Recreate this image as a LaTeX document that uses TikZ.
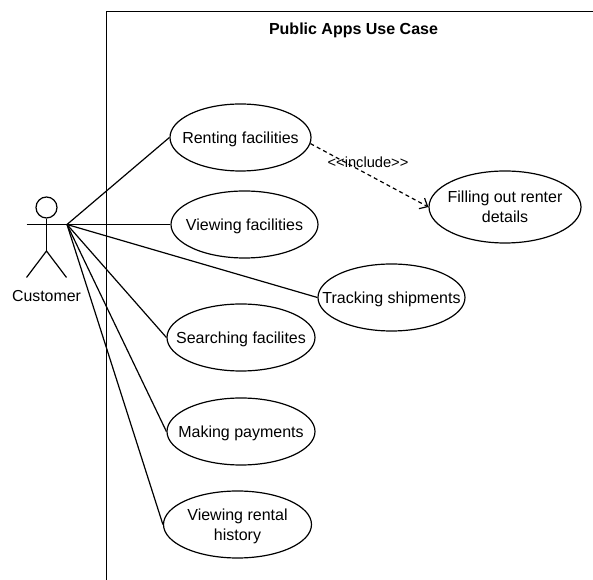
\documentclass[tikz,border=0pt]{standalone}
\usepackage{fontspec}
\setmainfont{Liberation Sans}
\usetikzlibrary{shapes, arrows.meta, positioning}

\begin{document}
\begin{tikzpicture}[
        x=0.75pt, y=-0.75pt,
        line width=0.9pt,
        usecase/.style={draw, ellipse, inner sep=-20pt, text depth=0pt, align=center, minimum height=50.25pt, font=\fontsize{12}{15}\selectfont},
        wire/.style={line width=0.9pt},
        include/.style={dashed, dash pattern=on 3pt off 2.4pt, -{Straight Barb[length=5pt, width=9pt]}}
    ]
        \useasboundingbox (0,0) rectangle (593,580);

        % Frame
        \coordinate (frametop) at (106.5,11.5);
        \coordinate (framebot) at (106.5,580);
        \coordinate (frameright) at (593,11.5);
        \draw (framebot) -- (frametop) -- (frameright);
        \node (title) at (353.5,30) [font=\fontsize{12}{14}\selectfont\bfseries] {Public Apps Use Case};

        % Actor
        \node (head) at (46.5,207.5) [draw, circle, minimum size=15.75pt, inner sep=0pt] {};
        \coordinate (neck) at (46.5,224.5);
        \coordinate (hip) at (46.5,251);
        \coordinate (lhand) at (26.5,224.5);
        \coordinate (hand) at (67,224.5);
        \coordinate (lfoot) at (26.5,277.5);
        \coordinate (rfoot) at (66.5,277.5);
        \draw (head) -- (hip);
        \draw (lhand) -- (hand);
        \draw (lfoot) -- (hip) -- (rfoot);
        \node (customer) at (46.5,296) [font=\fontsize{11.9}{14}\selectfont] {Customer};

        % Use cases
        \node (renting) at (240.5,137.5) [usecase, minimum width=105.75pt] {Renting facilities};
        \node (viewing) at (244.5,224.5) [usecase, minimum width=110.25pt] {Viewing facilities};
        \node (tracking) at (391.5,297.5) [usecase, minimum width=110.25pt] {Tracking shipments};
        \node (searching) at (241,337.5) [usecase, minimum width=111pt] {Searching facilites};
        \node (payments) at (241,431.5) [usecase, minimum width=111pt] {Making payments};
        \node (history) at (237.5,524.5) [usecase, minimum width=111pt] {Viewing rental\\history};
        \node (renter) at (505,207) [usecase, minimum width=114pt, minimum height=54pt] {Filling out renter\\details};

        % Wires
        \draw[wire] (hand) -- (renting.west);
        \draw[wire] (hand) -- (viewing.west);
        \draw[wire] (hand) -- (tracking.west);
        \draw[wire] (hand) -- (searching.west);
        \draw[wire] (hand) -- (payments.west);
        \draw[wire] (hand) -- (history.west);
        \draw[include] (renting.-5) -- (renter.west);

        % Label
        \node (includes) at (368,162) [font=\fontsize{11}{13}\selectfont] {<{}<include>{}>};
\end{tikzpicture}
\end{document}
